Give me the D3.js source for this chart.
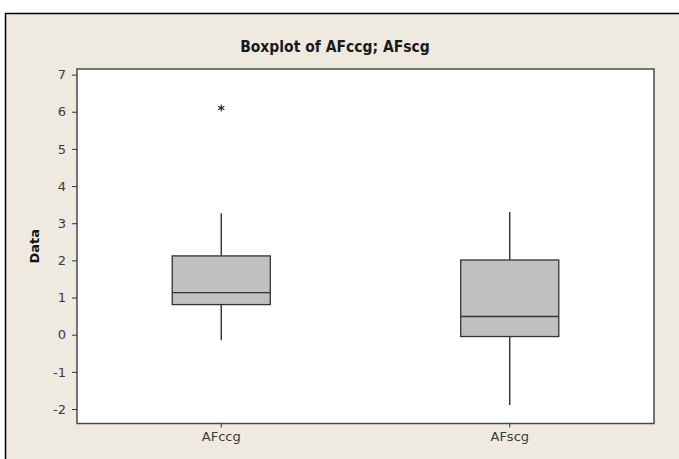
<!DOCTYPE html>
<html>
<head>
<meta charset="utf-8">
<script src="https://cdn.jsdelivr.net/npm/d3@7"></script>
<style>
  html, body { margin: 0; padding: 0; background: #ffffff; }
  svg { display: block; }
</style>
</head>
<body>
<svg id="chart" width="679" height="459"></svg>
<script>
// Boxplot summary per variable
const categories = ["AFccg", "AFscg"];
const whiskerLow  = [-0.15, -1.89];
const q1          = [0.81, -0.05];
const median      = [1.13, 0.49];
const q3          = [2.12, 2.01];
const whiskerHigh = [3.27, 3.30];
const outliers    = [[6.10], []];
const yTicks = [-2, -1, 0, 1, 2, 3, 4, 5, 6, 7];

const svg = d3.select("#chart");
const W = 679, H = 459;

// outer panel
svg.append("rect").attr("x", 5).attr("y", 13).attr("width", W - 5).attr("height", H - 13)
  .attr("fill", "#EEEAE0");
svg.append("path").attr("d", `M5.5,${H} V13.5 H${W}`)
  .attr("fill", "none").attr("stroke", "#000").attr("stroke-width", 1.5);

const plot = { left: 77, top: 69, right: 654, bottom: 423.5 };

const x = d3.scaleBand().domain(categories).range([plot.left, plot.right]).paddingInner(0.66).paddingOuter(0.33);
const y = d3.scaleLinear().domain([-2.39, 7.15]).range([plot.bottom, plot.top]);

// data region
svg.append("rect")
  .attr("x", plot.left).attr("y", plot.top)
  .attr("width", plot.right - plot.left).attr("height", plot.bottom - plot.top)
  .attr("fill", "#ffffff").attr("stroke", "#4a4a4a").attr("stroke-width", 1.5);

// title
svg.append("text").attr("x", 335).attr("y", 52)
  .attr("text-anchor", "middle")
  .attr("font-family", "'DejaVu Sans Condensed', 'DejaVu Sans', sans-serif")
  .attr("font-size", 15.5).attr("font-weight", "bold").attr("fill", "#1a1a1a")
  .text("Boxplot of AFccg; AFscg");

const tickFont = "'DejaVu Sans', sans-serif";

// y axis
const yAxis = d3.axisLeft(y).tickValues(yTicks).tickSize(5).tickPadding(6).tickFormat(d => String(d));
const ya = svg.append("g").attr("transform", `translate(${plot.left},0)`).call(yAxis);
ya.select(".domain").remove();
ya.selectAll(".tick line").attr("stroke", "#333");
ya.selectAll(".tick text").attr("font-family", tickFont).attr("font-size", 13).attr("fill", "#3a3a3a");

svg.append("text")
  .attr("transform", `translate(39,${(plot.top + plot.bottom) / 2}) rotate(-90)`)
  .attr("text-anchor", "middle")
  .attr("font-family", "'DejaVu Sans', sans-serif")
  .attr("font-size", 13).attr("font-weight", "bold").attr("fill", "#111")
  .text("Data");

// x axis
const xAxis = d3.axisBottom(x).tickSize(4).tickPadding(4);
const xa = svg.append("g").attr("transform", `translate(0,${plot.bottom})`).call(xAxis);
xa.select(".domain").remove();
xa.selectAll(".tick line").attr("stroke", "#333");
xa.selectAll(".tick text").attr("font-family", tickFont).attr("font-size", 13).attr("fill", "#3a3a3a");

// boxes
const rows = categories.map((c, i) => ({
  c, lo: whiskerLow[i], q1: q1[i], med: median[i], q3: q3[i], hi: whiskerHigh[i], out: outliers[i]
}));
const bw = x.bandwidth();
const g = svg.append("g");
rows.forEach(r => {
  const cx = x(r.c) + bw / 2;
  g.append("line").attr("x1", cx).attr("x2", cx).attr("y1", y(r.hi)).attr("y2", y(r.q3))
    .attr("stroke", "#222").attr("stroke-width", 1.3);
  g.append("line").attr("x1", cx).attr("x2", cx).attr("y1", y(r.q1)).attr("y2", y(r.lo))
    .attr("stroke", "#222").attr("stroke-width", 1.3);
  g.append("rect").attr("x", x(r.c)).attr("y", y(r.q3))
    .attr("width", bw).attr("height", y(r.q1) - y(r.q3))
    .attr("fill", "#C0C0C0").attr("stroke", "#333").attr("stroke-width", 1.3);
  g.append("line").attr("x1", x(r.c)).attr("x2", x(r.c) + bw).attr("y1", y(r.med)).attr("y2", y(r.med))
    .attr("stroke", "#333").attr("stroke-width", 1.3);
  r.out.forEach(v => {
    g.append("path").attr("d", d3.symbol(d3.symbolAsterisk, 36)())
      .attr("transform", `translate(${cx},${y(v)})`)
      .attr("fill", "none").attr("stroke", "#222").attr("stroke-width", 1.1);
  });
});
</script>
</body>
</html>
